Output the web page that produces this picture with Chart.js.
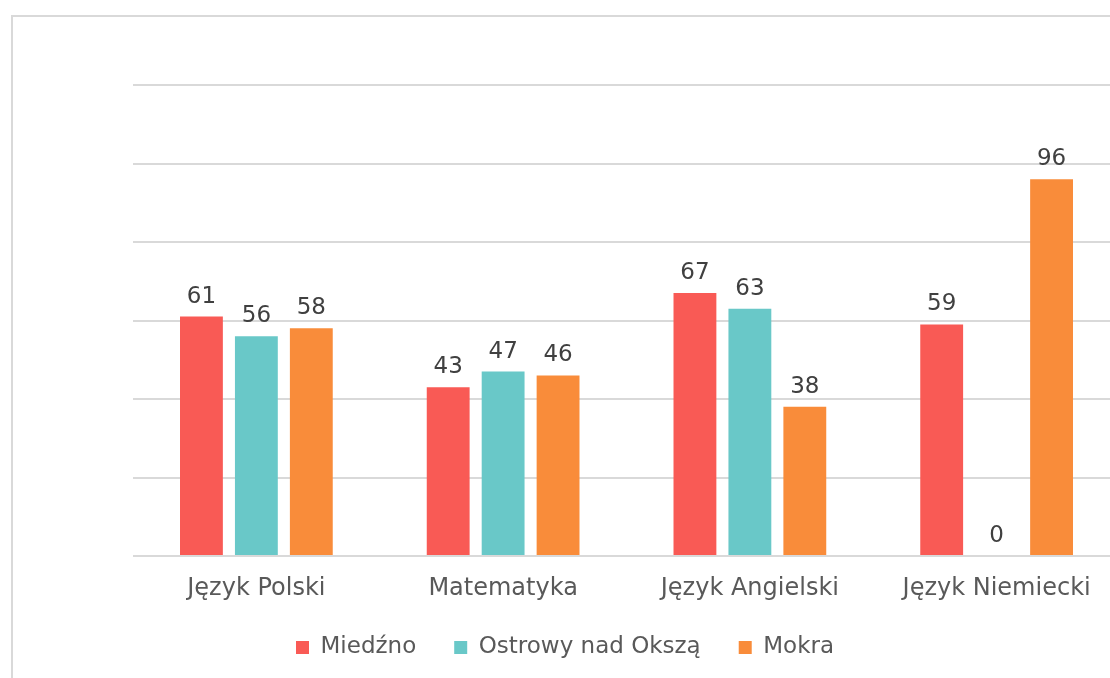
<!DOCTYPE html>
<html>
<head>
<meta charset="utf-8">
<script src="https://cdn.jsdelivr.net/npm/chart.js@4"></script>
<style>
  html, body { margin: 0; padding: 0; background: #fff; overflow: hidden; }
  body { width: 1110px; height: 678px; position: relative; }
  #frame { position: absolute; left: 11px; top: 15px; width: 1200px; height: 800px;
           border-top: 2px solid #d9d9d9; border-left: 2px solid #d9d9d9; }
  #wrap { position: absolute; left: 0; top: 0; width: 1125px; height: 676px; }
</style>
</head>
<body>
<div id="frame"></div>
<div id="wrap"><canvas id="chart" width="1125" height="676"></canvas></div>
<script>
// Wyniki egzaminu — trzy szkoły, cztery przedmioty
const SUBJECTS = ['Język Polski', 'Matematyka', 'Język Angielski', 'Język Niemiecki']
const MIEDZNO = [61, 43, 67, 59]
const OSTROWY = [56, 47, 63, 0]
const MOKRA = [58, 46, 38, 96]

const FONT = "'DejaVu Sans', Verdana, sans-serif"

// Draw the value above each bar (no datalabels plugin available)
const valueLabels = {
  id: 'valueLabels',
  afterDatasetsDraw(chart) {
    const ctx = chart.ctx
    ctx.save()
    ctx.font = '23px ' + FONT
    ctx.fillStyle = '#404040'
    ctx.textAlign = 'center'
    ctx.textBaseline = 'alphabetic'
    chart.data.datasets.forEach((ds, i) => {
      chart.getDatasetMeta(i).data.forEach((bar, j) => {
        ctx.fillText(String(ds.data[j]), bar.x, bar.y - 14)
      })
    })
    ctx.restore()
  },
}

// Legend sits a little closer to the axis labels than the box layout allows
const legendNudge = {
  id: 'legendNudge',
  afterLayout(chart) {
    if (!chart.legend) return
    chart.legend.top -= 7
    chart.legend.bottom -= 7
  },
}

new Chart(document.getElementById('chart'), {
  type: 'bar',
  data: {
    labels: SUBJECTS,
    datasets: [
      { label: 'Miedźno', data: MIEDZNO, backgroundColor: '#f95a55' },
      { label: 'Ostrowy nad Okszą', data: OSTROWY, backgroundColor: '#69c8c8' },
      { label: 'Mokra', data: MOKRA, backgroundColor: '#f98c3a' },
    ],
  },
  options: {
    responsive: false,
    animation: false,
    categoryPercentage: 0.668,
    barPercentage: 0.78,
    layout: { padding: { left: 10, right: 5, top: 85, bottom: 0 } },
    plugins: {
      legend: {
        position: 'bottom',
        labels: { boxWidth: 13, boxHeight: 13, padding: 38, color: '#595959', font: { family: FONT, size: 23 } },
      },
      tooltip: { enabled: false },
    },
    scales: {
      x: {
        grid: { display: false },
        border: { display: false },
        ticks: { color: '#595959', font: { family: FONT, size: 24 }, padding: 10 },
        afterFit: s => { s.height = 49 },
      },
      y: {
        min: 0,
        max: 120,
        ticks: { display: false, stepSize: 20 },
        grid: { color: '#d9d9d9', lineWidth: 2, drawTicks: false },
        border: { display: false },
        afterFit: s => { s.width = 123 },
      },
    },
  },
  plugins: [valueLabels, legendNudge],
})
</script>
</body>
</html>
